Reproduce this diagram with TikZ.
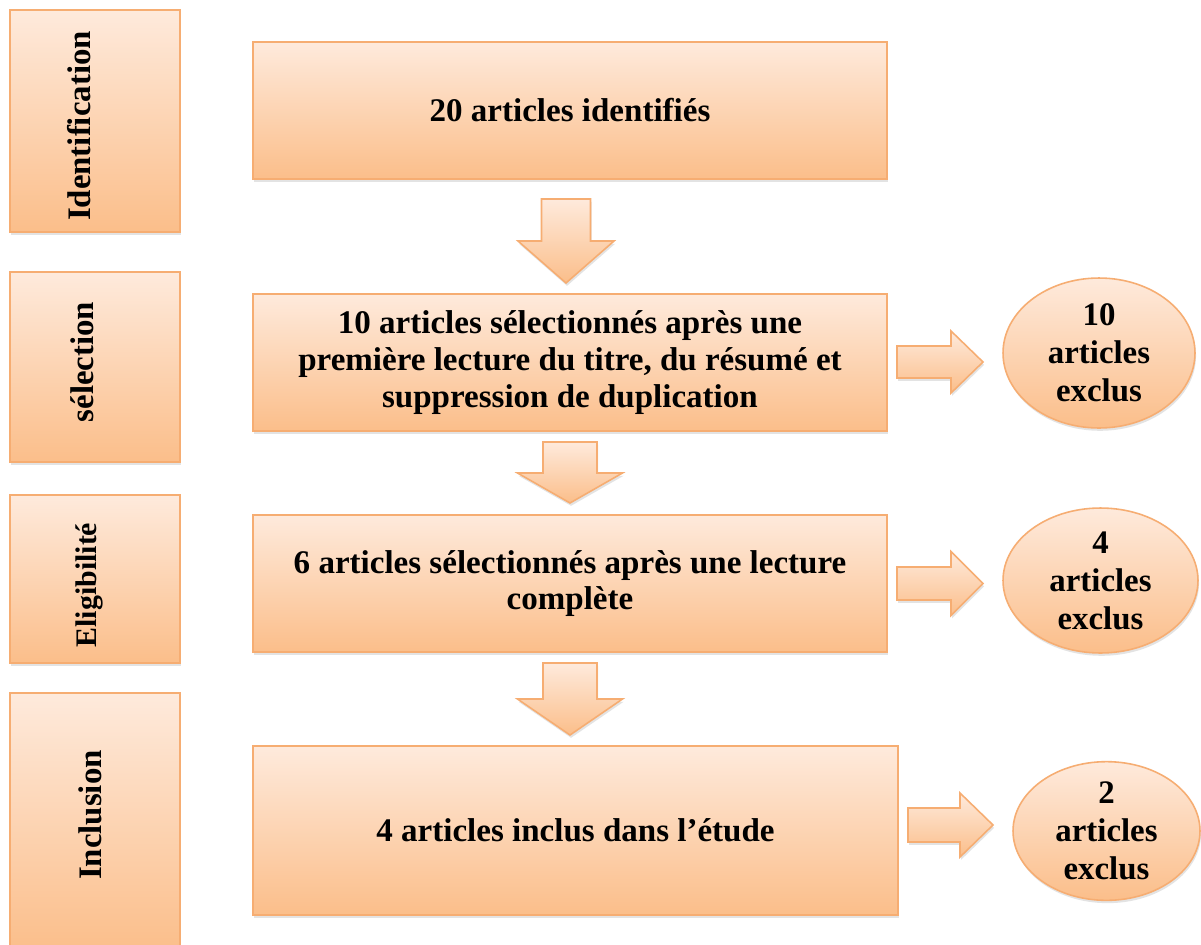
\documentclass[tikz,border=0pt]{standalone}
\usepackage{fontspec}
\setmainfont{Liberation Serif}
\usetikzlibrary{shadows,shapes.geometric}
\definecolor{fillTop}{HTML}{FEEADC}
\definecolor{fillBot}{HTML}{FBBE8A}
\definecolor{edgeCol}{HTML}{F6AD72}
\tikzset{
  orangefill/.style={draw=edgeCol, line width=0.9pt, top color=fillTop, bottom color=fillBot,
    drop shadow={opacity=0.22, shadow xshift=0.6pt, shadow yshift=-1.6pt}},
  panel/.style={orangefill, rectangle, inner sep=0pt},
  txt/.style={font=\fontsize{18.8}{21}\selectfont\bfseries, align=center, text=black},
  sidelabel/.style={font=\fontsize{18.7}{20.4}\selectfont\bfseries, rotate=90, text=black, inner sep=0pt},
  oval/.style={orangefill, ellipse, inner sep=0pt, align=center,
    font=\fontsize{18.7}{21.6}\selectfont\bfseries},
  blockarrow/.style={orangefill, line join=miter}
}
\newcommand{\blockdown}[6]{% cx, shaft top, head top, tip, shaft half, head half
  \path[blockarrow] (#1-#5,#2) -- (#1+#5,#2) -- (#1+#5,#3) -- (#1+#6,#3) -- (#1,#4)
    -- (#1-#6,#3) -- (#1-#5,#3) -- cycle;}
\newcommand{\blockright}[6]{% cy, shaft left, head x, tip, shaft half, head half
  \path[blockarrow] (#2,#1-#5) -- (#3,#1-#5) -- (#3,#1-#6) -- (#4,#1) -- (#3,#1+#6)
    -- (#3,#1+#5) -- (#2,#1+#5) -- cycle;}
\begin{document}
\begin{tikzpicture}[x=0.02cm, y=-0.02cm]
\useasboundingbox (0,0) rectangle (1201,944);
\fill[white] (0,0) rectangle (1201,944);

% left phase boxes
\node[panel, minimum width=3.4cm, minimum height=4.44cm] (L1) at (95,121) {};
\node[panel, minimum width=3.4cm, minimum height=3.8cm] (L2) at (95,367) {};
\node[panel, minimum width=3.4cm, minimum height=3.36cm] (L3) at (95,579) {};
\node[panel, minimum width=3.4cm, minimum height=5.18cm] (L4) at (95,822.5) {};
\node[sidelabel] (t1) at (79,126) {Identification};
\node[sidelabel] (t2) at (82,362) {sélection};
\node[sidelabel, font=\fontsize{17}{20}\selectfont\bfseries] (t3) at (89,585) {Eligibilité};
\node[sidelabel] (t4) at (90,815) {Inclusion};

% main boxes
\node[panel, txt, minimum width=12.68cm, minimum height=2.74cm] (b1) at (570,110.5) {20 articles identifiés};
\node[panel, txt, minimum width=12.68cm, minimum height=2.74cm] (b2) at (570,362.5)
  {10 articles sélectionnés après une\\première lecture du titre, du résumé et\\suppression de duplication};
\node[panel, txt, minimum width=12.68cm, minimum height=2.74cm] (b3) at (570,583.5)
  {6 articles sélectionnés après une lecture\\complète};
\node[panel, txt, minimum width=12.9cm, minimum height=3.38cm] (b4) at (575.5,830.5)
  {4 articles inclus dans l’étude};

% ellipses
\node[oval, minimum width=3.84cm, minimum height=3.0cm] (e1) at (1099,353) {10\\articles\\exclus};
\node[oval, minimum width=3.9cm, minimum height=2.9cm] (e2) at (1100.5,580.5) {4\\articles\\exclus};
\node[oval, minimum width=3.74cm, minimum height=2.76cm] (e3) at (1106.5,831) {2\\articles\\exclus};

% down arrows
\blockdown{566}{199}{241}{283}{24.5}{48}
\blockdown{570}{442}{473}{503}{27}{52.5}
\blockdown{570}{663}{699}{735}{27}{52.5}

% right arrows
\blockright{362}{897}{951}{983}{16}{31}
\blockright{583.5}{897}{951}{983}{16.5}{32}
\blockright{825}{908}{960}{993}{17}{32}
\end{tikzpicture}
\end{document}
